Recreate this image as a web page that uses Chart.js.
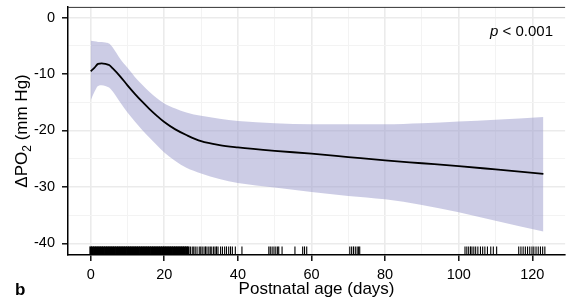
<!DOCTYPE html>
<html>
<head>
<meta charset="utf-8">
<script src="https://cdn.jsdelivr.net/npm/chart.js@4"></script>
<style>
  body { margin: 0; background: #fff; }
  #wrap { width: 572px; height: 306px; }
</style>
</head>
<body>
<div id="wrap"><canvas id="chart" width="572" height="306"></canvas></div>
<script>
// postnatal age (days) where the fitted curve was read
const ages = [0, 1, 2, 3, 4, 5, 6, 8, 10, 12, 14, 16, 18, 20, 23, 26, 30, 35, 40, 50, 60, 70, 80, 90, 100, 110, 123];
const fit = [-9.5, -8.9, -8.2, -8.1, -8.2, -8.4, -9.0, -10.4, -12.0, -13.5, -14.9, -16.2, -17.4, -18.5, -19.8, -20.8, -21.9, -22.6, -23.0, -23.6, -24.1, -24.7, -25.3, -25.8, -26.3, -26.9, -27.7];
const upper = [-4.1, -4.2, -4.3, -4.3, -4.4, -4.6, -5.3, -7.3, -8.9, -10.5, -11.9, -13.2, -14.3, -15.2, -16.1, -16.8, -17.4, -17.9, -18.3, -18.7, -18.9, -18.9, -18.9, -18.7, -18.4, -18.1, -17.6];
const lower = [-14.7, -13.2, -12.1, -12.0, -12.1, -12.4, -13.1, -15.0, -16.8, -18.4, -19.9, -21.3, -22.6, -23.9, -25.4, -26.6, -27.6, -28.6, -29.3, -30.1, -30.9, -31.6, -32.2, -33.2, -34.5, -36.0, -37.9];

// observation ages shown as the rug along the bottom
const rugAges = [
  0, 0.5, 1, 1.5, 2, 2.5, 3, 3.5, 4, 4.5, 5, 5.5, 6, 6.5, 7, 7.5, 8, 8.5, 9, 9.5,
  10, 10.5, 11, 11.5, 12, 12.5, 13, 13.5, 14, 14.5, 15, 15.5, 16, 16.5, 17, 17.5,
  18, 18.5, 19, 19.5, 20, 20.5, 21, 21.5, 22, 22.5, 23, 23.5, 24, 24.5, 25, 25.5, 26, 26.5,
  27.1, 27.6, 28.0, 28.4, 28.9, 29.5, 29.9, 30.3, 30.8, 31.2, 31.6, 32.1, 32.5, 32.9, 33.4,
  33.8, 34.2, 34.6, 35.3, 35.8, 36.4, 36.9, 37.5, 38.0, 38.5, 39.3, 41.1,
  48.4, 48.8, 49.3, 49.8, 50.3, 50.8, 51.1, 52.0, 55.5, 57.6, 58.1, 58.7,
  70.4, 70.9, 71.4, 71.9, 72.4, 72.8, 73.1,
  101.7, 102.2, 102.7, 103.2, 103.6, 104.1, 104.6, 105.2, 105.9, 106.5, 107.1, 107.8,
  108.7, 109.4, 110.3,
  116.3, 116.9, 117.5, 118.1, 118.7, 119.3, 119.9, 120.4, 121.0, 121.6, 122.2, 122.8, 123.4
];
const denseRugCount = 54;

const xTicks = [0, 10, 20, 30, 40, 50, 60, 70, 80, 90, 100, 110, 120];
const yTicks = [-40, -35, -30, -25, -20, -15, -10, -5, 0];
const pLabel = '< 0.001';

const X_MIN = -6.16, X_MAX = 128.9;
const Y_MIN = -42.06, Y_MAX = 1.9;
const RUG_Y = -41.3;

const FONT = "'Liberation Sans', Arial, sans-serif";

function pts(ys) {
  return ages.map((a, i) => ({ x: a, y: ys[i] }));
}

const isMajor = (v, step) => Math.abs(v % step) < 1e-9;

const decorations = {
  id: 'decorations',
  afterDraw(chart) {
    const { ctx, chartArea: a } = chart;
    ctx.save();
    // top frame line
    ctx.strokeStyle = '#333';
    ctx.lineWidth = 1;
    ctx.beginPath();
    ctx.moveTo(a.left, a.top + 0.5);
    ctx.lineTo(a.right, a.top + 0.5);
    ctx.stroke();

    ctx.fillStyle = '#000';
    // x title
    ctx.font = `17px ${FONT}`;
    ctx.textAlign = 'center';
    ctx.textBaseline = 'alphabetic';
    ctx.fillText('Postnatal age (days)', (a.left + a.right) / 2, 294);

    // panel letter
    ctx.font = `bold 17px ${FONT}`;
    ctx.textAlign = 'left';
    ctx.fillText('b', 15, 295);

    // p value
    ctx.font = `15px ${FONT}`;
    ctx.textAlign = 'right';
    ctx.fillText(' ' + pLabel, 553, 36);
    const w = ctx.measureText(' ' + pLabel).width;
    ctx.font = `italic 15px ${FONT}`;
    ctx.fillText('p', 553 - w, 36);

    // y title with subscript
    const cy = (a.top + a.bottom) / 2;
    ctx.translate(27, cy);
    ctx.rotate(-Math.PI / 2);
    ctx.textAlign = 'left';
    const big = `17px ${FONT}`, small = `12px ${FONT}`;
    ctx.font = big;
    const w1 = ctx.measureText('\u0394PO').width;
    const w3 = ctx.measureText(' (mm Hg)').width;
    ctx.font = small;
    const w2 = ctx.measureText('2').width;
    let x = -(w1 + w2 + w3) / 2;
    ctx.font = big;
    ctx.fillText('\u0394PO', x, 0);
    x += w1;
    ctx.font = small;
    ctx.fillText('2', x, 4);
    x += w2;
    ctx.font = big;
    ctx.fillText(' (mm Hg)', x, 0);
    ctx.restore();
  }
};

new Chart(document.getElementById('chart'), {
  type: 'line',
  data: {
    datasets: [
      {
        label: 'fit',
        data: pts(fit),
        borderColor: '#000',
        borderWidth: 1.8,
        pointRadius: 0,
        cubicInterpolationMode: 'monotone',
        fill: false
      },
      {
        label: 'rug',
        type: 'scatter',
        data: rugAges.map(a => ({ x: a, y: RUG_Y })),
        pointStyle: 'line',
        rotation: 90,
        pointRadius: 4.3,
        borderColor: '#000',
        pointBorderWidth: c => (c.dataIndex < denseRugCount ? 2.6 : 1.1),
        showLine: false
      },
      {
        label: 'upper',
        data: pts(upper),
        borderWidth: 0,
        pointRadius: 0,
        cubicInterpolationMode: 'monotone',
        backgroundColor: 'rgba(153,153,204,0.5)',
        fill: '+1'
      },
      {
        label: 'lower',
        data: pts(lower),
        borderWidth: 0,
        pointRadius: 0,
        cubicInterpolationMode: 'monotone',
        fill: false
      }
    ]
  },
  options: {
    responsive: false,
    animation: false,
    devicePixelRatio: 1,
    layout: { padding: { top: 6, left: 0, right: 0, bottom: 0 } },
    plugins: { legend: { display: false }, tooltip: { enabled: false } },
    scales: {
      x: {
        type: 'linear',
        min: X_MIN,
        max: X_MAX,
        afterBuildTicks: s => { s.ticks = xTicks.map(v => ({ value: v })); },
        afterFit: s => { s.height = 51; s.paddingLeft = 0; s.paddingRight = 0; },
        ticks: {
          autoSkip: false,
          maxRotation: 0,
          padding: 5,
          color: '#000',
          font: { family: FONT, size: 14.5 },
          callback: v => (isMajor(v, 20) ? String(v) : '')
        },
        grid: {
          color: c => (isMajor(c.tick.value, 20) ? '#ebebeb' : '#f3f3f3'),
          lineWidth: c => (isMajor(c.tick.value, 20) ? 1.6 : 1),
          tickColor: c => (isMajor(c.tick.value, 20) ? '#000' : 'rgba(0,0,0,0)'),
          tickLength: 6,
          tickWidth: 1.4
        },
        border: { display: true, color: '#000', width: 1.5 }
      },
      y: {
        type: 'linear',
        min: Y_MIN,
        max: Y_MAX,
        afterBuildTicks: s => { s.ticks = yTicks.map(v => ({ value: v })); },
        afterFit: s => { s.width = 68; s.paddingTop = 0; s.paddingBottom = 0; },
        ticks: {
          autoSkip: false,
          padding: 7,
          color: '#000',
          font: { family: FONT, size: 14.5 },
          callback: v => (isMajor(v, 10) ? String(v) : '')
        },
        grid: {
          color: c => (isMajor(c.tick.value, 10) ? '#ebebeb' : '#f3f3f3'),
          lineWidth: c => (isMajor(c.tick.value, 10) ? 1.6 : 1),
          tickColor: c => (isMajor(c.tick.value, 10) ? '#000' : 'rgba(0,0,0,0)'),
          tickLength: 6,
          tickWidth: 1.4
        },
        border: { display: true, color: '#000', width: 1.5 }
      }
    }
  },
  plugins: [decorations]
});
</script>
</body>
</html>
